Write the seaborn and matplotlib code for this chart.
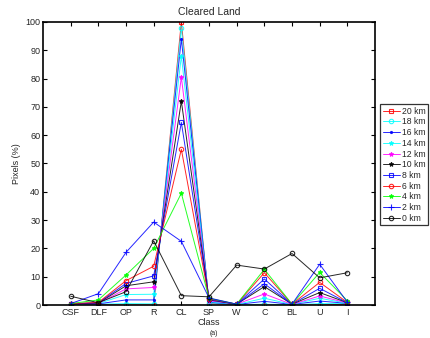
import numpy as np
import pandas as pd
import seaborn as sns
import matplotlib
matplotlib.use("Agg")
import matplotlib.pyplot as plt

classes = ['CSF', 'DLF', 'OP', 'R', 'CL', 'SP', 'W', 'C', 'BL', 'U', 'I']
series = ['20 km', '18 km', '16 km', '14 km', '12 km', '10 km',
          '8 km', '6 km', '4 km', '2 km', '0 km']

km20 = [0.3, 0.2, 0.0, 0.0, 100.0, 0.5, 0.1, 0.0, 0.1, 0.0, 0.3]
km18 = [0.3, 0.3, 0.5, 0.4, 98.0, 0.8, 0.1, 0.3, 0.1, 0.5, 0.5]
km16 = [0.3, 0.4, 1.8, 1.8, 94.0, 1.0, 0.2, 1.3, 0.2, 1.4, 0.6]
km14 = [0.3, 0.5, 3.7, 3.8, 88.0, 1.2, 0.2, 2.4, 0.2, 2.4, 0.6]
km12 = [0.4, 0.6, 5.7, 6.2, 80.5, 1.5, 0.3, 3.9, 0.2, 3.2, 0.7]
km10 = [0.4, 0.7, 6.8, 8.2, 72.0, 1.8, 0.3, 6.5, 0.3, 4.4, 0.8]
km8 = [0.4, 0.8, 7.6, 10.3, 64.5, 2.0, 0.3, 9.2, 0.3, 5.9, 0.8]
km6 = [0.5, 0.9, 8.6, 13.7, 55.0, 2.2, 0.3, 11.4, 0.3, 8.0, 0.9]
km4 = [0.5, 1.8, 10.6, 20.0, 39.5, 2.4, 0.3, 12.6, 0.3, 11.5, 1.5]
km2 = [0.5, 4.0, 18.6, 29.3, 22.5, 2.5, 0.3, 7.5, 0.3, 14.4, 1.0]
km0 = [3.1, 0.8, 4.7, 22.7, 3.3, 2.9, 14.1, 12.7, 18.2, 9.6, 11.4]

values = [km20, km18, km16, km14, km12, km10, km8, km6, km4, km2, km0]

colors = ['#ff0000', '#00ffff', '#0000ff', '#00ffff', '#ff00ff', '#000000',
          '#0000ff', '#ff0000', '#00ff00', '#0000ff', '#000000']
markers = ['s', 'o', '.', '*', '*', '*', 's', 'o', '*', '+', 'o']
msizes = {'s': 3.2, 'o': 3.2, '.': 3.0, '*': 3.2, '+': 4.0}

xpos = np.arange(1, len(classes) + 1)

sns.set_style("white")
plt.rcParams['font.family'] = ['Liberation Sans', 'DejaVu Sans']

fig = plt.figure(figsize=(4.31, 3.38), dpi=100)
ax = fig.add_axes([0.0998, 0.0976, 0.7703, 0.8374])

for name, vals, c, m in zip(series, values, colors, markers):
    hollow = m in ('s', 'o')
    sns.lineplot(x=xpos, y=vals, color=c, marker=m, label=name,
                 linewidth=0.7, alpha=0.85,
                 markersize=msizes[m],
                 markerfacecolor='none' if hollow else c,
                 markeredgecolor=c, markeredgewidth=0.8,
                 ax=ax)

ax.set_xlim(0, 12)
ax.set_ylim(0, 100)
ax.set_xticks(xpos)
ax.set_xticklabels(classes)
ax.set_yticks(range(0, 101, 10))
ax.tick_params(direction='in', length=3, width=0.8, labelsize=6.5, pad=2,
               top=True, right=True, bottom=True, left=True, color='black')
for s in ax.spines.values():
    s.set_visible(True)
    s.set_color('black')
    s.set_linewidth(1.2)

ax.set_title('Cleared Land', fontsize=7.5, pad=5)
ax.set_xlabel('Class', fontsize=6.5, labelpad=1)
ax.set_ylabel('Pixels (%)', fontsize=6.5, labelpad=3)

leg = ax.legend(loc='upper left',
                bbox_to_anchor=(0.882, 0.692), bbox_transform=fig.transFigure,
                fontsize=6.2, frameon=True, fancybox=False, borderaxespad=0,
                handlelength=2.0, handletextpad=0.2, labelspacing=0.2,
                borderpad=0.3)
leg.get_frame().set_edgecolor('black')
leg.get_frame().set_linewidth(0.9)

fig.text(0.497, 0.002, '(a)', fontsize=5, ha='center', va='bottom')

fig.savefig('out.png', dpi=100)
